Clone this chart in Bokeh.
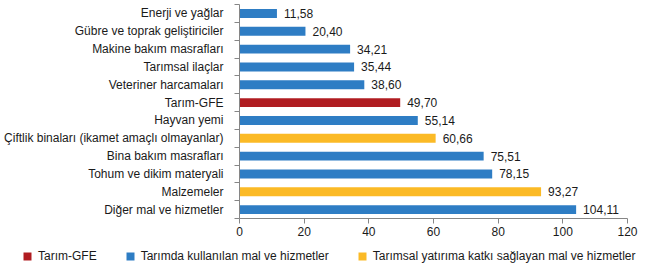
from bokeh.plotting import figure
from bokeh.layouts import column
from bokeh.models import ColumnDataSource, Range1d, FixedTicker, Legend, LegendItem
from bokeh.core.properties import value
from bokeh.embed import file_html
from bokeh.resources import INLINE

categories = ["Enerji ve yağlar", "Gübre ve toprak geliştiriciler", "Makine bakım masrafları",
              "Tarımsal ilaçlar", "Veteriner harcamaları", "Tarım-GFE", "Hayvan yemi",
              "Çiftlik binaları (ikamet amaçlı olmayanlar)", "Bina bakım masrafları",
              "Tohum ve dikim materyali", "Malzemeler", "Diğer mal ve hizmetler"]
values = [11.58, 20.40, 34.21, 35.44, 38.60, 49.70, 55.14, 60.66, 75.51, 78.15, 93.27, 104.11]
groups = ["b", "b", "b", "b", "b", "r", "b", "y", "b", "b", "y", "b"]
x_ticks = [0, 20, 40, 60, 80, 100, 120]
legend_labels = {"r": "Tarım-GFE",
                 "b": "Tarımda kullanılan mal ve hizmetler",
                 "y": "Tarımsal yatırıma katkı sağlayan mal ve hizmetler"}
colors = {"r": "#B01C21", "b": "#2E7DC4", "y": "#FBBA26"}

FONT = "Liberation Sans"
FS = "12px"
TXT = "#1a1a1a"
AX = "#868686"

p = figure(width=645, height=240, output_backend="svg", toolbar_location=None,
           x_range=Range1d(0, 120), y_range=Range1d(11.5, -0.5),
           min_border_left=239, min_border_right=18, min_border_top=4, min_border_bottom=22)
p.frame_align = False
p.outline_line_color = None
p.xgrid.grid_line_color = None
p.ygrid.grid_line_color = None
p.background_fill_color = "white"
p.border_fill_color = "white"

for g in ["r", "b", "y"]:
    idx = [i for i, gg in enumerate(groups) if gg == g]
    src = ColumnDataSource(dict(y=idx, v=[values[i] for i in idx],
                                lbl=[f"{values[i]:.2f}".replace(".", ",") for i in idx]))
    p.hbar(y="y", right="v", left=0, height=0.5, source=src,
           fill_color=colors[g], line_color=None)
    p.text(x="v", y="y", text="lbl", source=src, x_offset=7, text_baseline="middle",
           text_align="left", text_font=value(FONT), text_font_size=FS, text_color=TXT)

# y axis
ya = p.yaxis[0]
ya.ticker = FixedTicker(ticks=list(range(len(categories))),
                        minor_ticks=[i - 0.5 for i in range(len(categories) + 1)])
ya.major_label_overrides = {i: c for i, c in enumerate(categories)}
ya.major_tick_line_color = None
ya.major_tick_out = 0
ya.major_tick_in = 0
ya.minor_tick_out = 5
ya.minor_tick_in = 0
ya.minor_tick_line_color = AX
ya.axis_line_color = AX
ya.major_label_standoff = 11
ya.major_label_text_font = FONT
ya.major_label_text_font_size = FS
ya.major_label_text_color = TXT

# x axis
xa = p.xaxis[0]
xa.ticker = FixedTicker(ticks=x_ticks, minor_ticks=[])
xa.major_tick_out = 5
xa.major_tick_in = 0
xa.major_tick_line_color = AX
xa.axis_line_color = AX
xa.major_label_standoff = 3
xa.major_label_text_font = FONT
xa.major_label_text_font_size = FS
xa.major_label_text_color = TXT

# legend strip
pl = figure(width=645, height=33, output_backend="svg", toolbar_location=None,
            x_range=Range1d(0, 1), y_range=Range1d(0, 1),
            x_axis_location=None, y_axis_location=None,
            min_border_left=22, min_border_right=0, min_border_top=9, min_border_bottom=0)
pl.frame_align = False
pl.outline_line_color = None
pl.xgrid.grid_line_color = None
pl.ygrid.grid_line_color = None
items = []
for g in ["r", "b", "y"]:
    r = pl.hbar(y=[-10], right=[0.5], left=0, height=0.5, fill_color=colors[g], line_color=None)
    items.append(LegendItem(label=legend_labels[g], renderers=[r]))
legend = Legend(items=items, orientation="horizontal", location="top_left",
                glyph_width=10, glyph_height=10, label_standoff=6, spacing=28,
                padding=0, margin=0, border_line_color=None, background_fill_alpha=0,
                label_text_font=FONT, label_text_font_size=FS, label_text_color=TXT,
                label_height=12)
pl.add_layout(legend, "center")

layout = column(p, pl, spacing=0)
open("out.html", "w").write(file_html(layout, INLINE))
